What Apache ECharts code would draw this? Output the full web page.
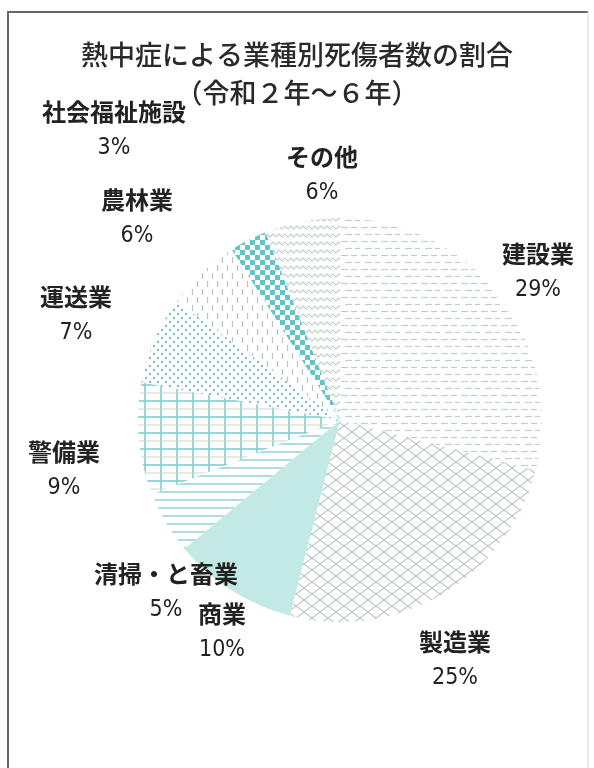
<!DOCTYPE html>
<html>
<head>
<meta charset="utf-8">
<script src="https://cdn.jsdelivr.net/npm/echarts@6/dist/echarts.min.js"></script>
<style>
  html, body { margin: 0; padding: 0; background: #fff; }
  #chart { width: 594px; height: 768px; }
</style>
</head>
<body>
<div id="chart"></div>
<script>
// 業種別の割合 (%)
var categories = ['建設業', '製造業', '商業', '清掃・と畜業', '警備業', '運送業', '農林業', '社会福祉施設', 'その他'];
var shares = [29, 25, 10, 5, 9, 7, 6, 3, 6];

// label centres, same order as categories
var labelPos = [
  [538, 272], [455, 660], [222, 632], [166, 592], [64, 470],
  [76, 315], [137, 218], [114, 130], [322, 175]
];

function makePattern(w, h, draw) {
  var c = document.createElement('canvas');
  c.width = w;
  c.height = h;
  var ctx = c.getContext('2d');
  ctx.fillStyle = '#fff';
  ctx.fillRect(0, 0, w, h);
  draw(ctx);
  return { image: c, repeat: 'repeat' };
}

function line(ctx, pts, color, width) {
  ctx.strokeStyle = color;
  ctx.lineWidth = width;
  ctx.beginPath();
  ctx.moveTo(pts[0][0], pts[0][1]);
  for (var i = 1; i < pts.length; i++) ctx.lineTo(pts[i][0], pts[i][1]);
  ctx.stroke();
}

var fills = [
  // 建設業: short dashes
  makePattern(20, 14, function (ctx) {
    line(ctx, [[1, 3.5], [8, 3.5]], '#c3cfcf', 1.2);
    line(ctx, [[11, 3.5], [17, 3.5]], '#c3cfcf', 1.2);
    line(ctx, [[5, 10.5], [12, 10.5]], '#c3cfcf', 1.2);
    line(ctx, [[15, 10.5], [20, 10.5]], '#c3cfcf', 1.2);
  }),
  // 製造業: lattice
  makePattern(16, 12, function (ctx) {
    line(ctx, [[0, 0], [8, 6], [0, 12]], '#bcc5c5', 1.1);
    line(ctx, [[16, 0], [8, 6], [16, 12]], '#bcc5c5', 1.1);
  }),
  // 商業: solid
  '#c3e9e4',
  // 清掃・と畜業: horizontal lines
  makePattern(6, 8, function (ctx) {
    line(ctx, [[0, 4], [6, 4]], '#93d0d3', 1.5);
  }),
  // 警備業: grid
  makePattern(16, 16, function (ctx) {
    line(ctx, [[1, 0], [1, 16]], '#80cbd0', 1.6);
    line(ctx, [[0, 1], [16, 1]], '#80cbd0', 1.6);
    line(ctx, [[0, 9], [16, 9]], '#c9d6d6', 1);
  }),
  // 運送業: dots
  makePattern(8, 8, function (ctx) {
    ctx.fillStyle = '#86bcc0';
    ctx.beginPath(); ctx.arc(2, 2, 1.2, 0, Math.PI * 2); ctx.fill();
    ctx.beginPath(); ctx.arc(6, 6, 1.2, 0, Math.PI * 2); ctx.fill();
  }),
  // 農林業: vertical dashes
  makePattern(10, 16, function (ctx) {
    line(ctx, [[2.5, 1], [2.5, 7]], '#b9c3c3', 1.2);
    line(ctx, [[7.5, 9], [7.5, 15]], '#b9c3c3', 1.2);
  }),
  // 社会福祉施設: checker
  makePattern(10, 10, function (ctx) {
    ctx.fillStyle = '#62c3c9';
    ctx.fillRect(0, 0, 5, 5);
    ctx.fillRect(5, 5, 5, 5);
  }),
  // その他: wave
  makePattern(12, 8, function (ctx) {
    line(ctx, [[0, 5], [3, 2], [6, 5], [9, 2], [12, 5]], '#c3cbcb', 1.1);
  })
];

var pieData = categories.map(function (name, i) {
  return { name: name, value: shares[i], itemStyle: { color: fills[i] } };
});

var chart = echarts.init(document.getElementById('chart'), null, { renderer: 'canvas' });

var option = {
  backgroundColor: '#fff',
  animation: false,
  title: {
    text: '熱中症による業種別死傷者数の割合\n（令和２年～６年）',
    left: 'center',
    top: 31,
    textStyle: {
      fontFamily: 'Noto Sans CJK JP',
      fontSize: 27,
      fontWeight: 500,
      lineHeight: 38,
      color: '#2a2a2a'
    }
  },
  graphic: [
    { type: 'polyline', shape: { points: [[8, 768], [8, 12], [588, 12]] }, style: { stroke: '#666', lineWidth: 2, fill: null } },
    { type: 'line', shape: { x1: 588, y1: 12, x2: 588, y2: 768 }, style: { stroke: '#d4d4d4', lineWidth: 1 } }
  ],
  series: [
    {
      type: 'pie',
      center: [340, 420],
      radius: 202,
      startAngle: 90,
      clockwise: true,
      silent: true,
      data: pieData,
      itemStyle: { borderWidth: 0 },
      label: {
        show: true,
        position: 'outside',
        overflow: 'none',
        width: 300,
        formatter: function (p) { return '{n|' + p.name + '}\n{p|' + p.value + '%}'; },
        rich: {
          n: { fontFamily: 'Noto Sans CJK JP', fontSize: 24, fontWeight: 'bold', color: '#222', lineHeight: 36, align: 'center' },
          p: { fontFamily: '"DejaVu Sans Condensed", "Liberation Sans Narrow", "Noto Sans CJK JP"', fontSize: 23, color: '#222', lineHeight: 36, align: 'center' }
        }
      },
      labelLine: { show: false },
      labelLayout: function (params) {
        var pos = labelPos[params.dataIndex];
        return { x: pos[0], y: pos[1], align: 'center', verticalAlign: 'middle' };
      }
    }
  ]
};

option && chart.setOption(option);
</script>
</body>
</html>
